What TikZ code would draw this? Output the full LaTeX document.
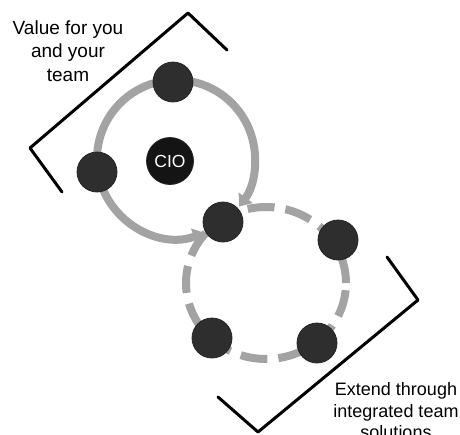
\documentclass[tikz,border=0pt]{standalone}
\usepackage{fontspec}
\setmainfont{Liberation Sans}
\usetikzlibrary{arrows.meta}
\definecolor{ringgray}{HTML}{A3A3A3}
\definecolor{dotgray}{HTML}{2E2E2E}
\begin{document}
\begin{tikzpicture}[x=1pt,y=1pt,
  ring/.style={line width=8pt, ringgray},
  ringtip/.style={ring, -{Triangle[length=11pt,width=17pt]}},
  dashring/.style={ring, dash pattern=on 27pt off 11pt},
  dot/.style={circle, fill=dotgray, draw=black!85, line width=0.8pt,
    minimum size=40pt, inner sep=0pt},
  bracket/.style={line width=3pt, line join=round, line cap=round},
  caption/.style={align=center, font=\fontsize{19}{23.5}\selectfont}]
\useasboundingbox (0,0) rectangle (460,-434);
% ---- centres of the two rings ----
\coordinate (c1) at (176,-159);
\coordinate (c2) at (266,-283);
% ---- upper ring: solid, arrows into the hub ----
\draw[ring] (c1) ++(106:79) arc[start angle=106, end angle=175, radius=79];
\draw[ringtip] (c1) ++(203:79) arc[start angle=203, end angle=291, radius=79];
\draw[ringtip] (c1) ++(78:79) arc[start angle=78, end angle=-37, radius=79];
% ---- lower ring: dashed ----
\draw[dashring] (c2) circle[x radius=80, y radius=76];
% ---- dots ----
\node[dot] (top) at (173,-82) {};
\node[dot] (left) at (97,-172) {};
\node[dot] (hub) at (223,-222) {};
\node[dot] (right) at (338,-240) {};
\node[dot] (botleft) at (212,-338) {};
\node[dot] (botright) at (317,-343) {};
\node[dot, fill=black!92, minimum size=47pt, text=white,
  font=\fontsize{17.5}{17.5}\selectfont] (cio) at (170,-161) {CIO};
% ---- brackets ----
\draw[bracket] (227,-50) -- (188,-13) -- (30,-148) -- (62,-192);
\draw[bracket] (387,-257) -- (418,-300) -- (258,-432) -- (218,-397);
% ---- captions ----
\node[caption] (value) at (68,-51) {Value for you\\and your\\team};
\node[caption, font=\fontsize{18}{21.5}\selectfont] (extend) at (396,-411)
  {Extend through\\integrated team\\solutions};
\end{tikzpicture}
\end{document}
